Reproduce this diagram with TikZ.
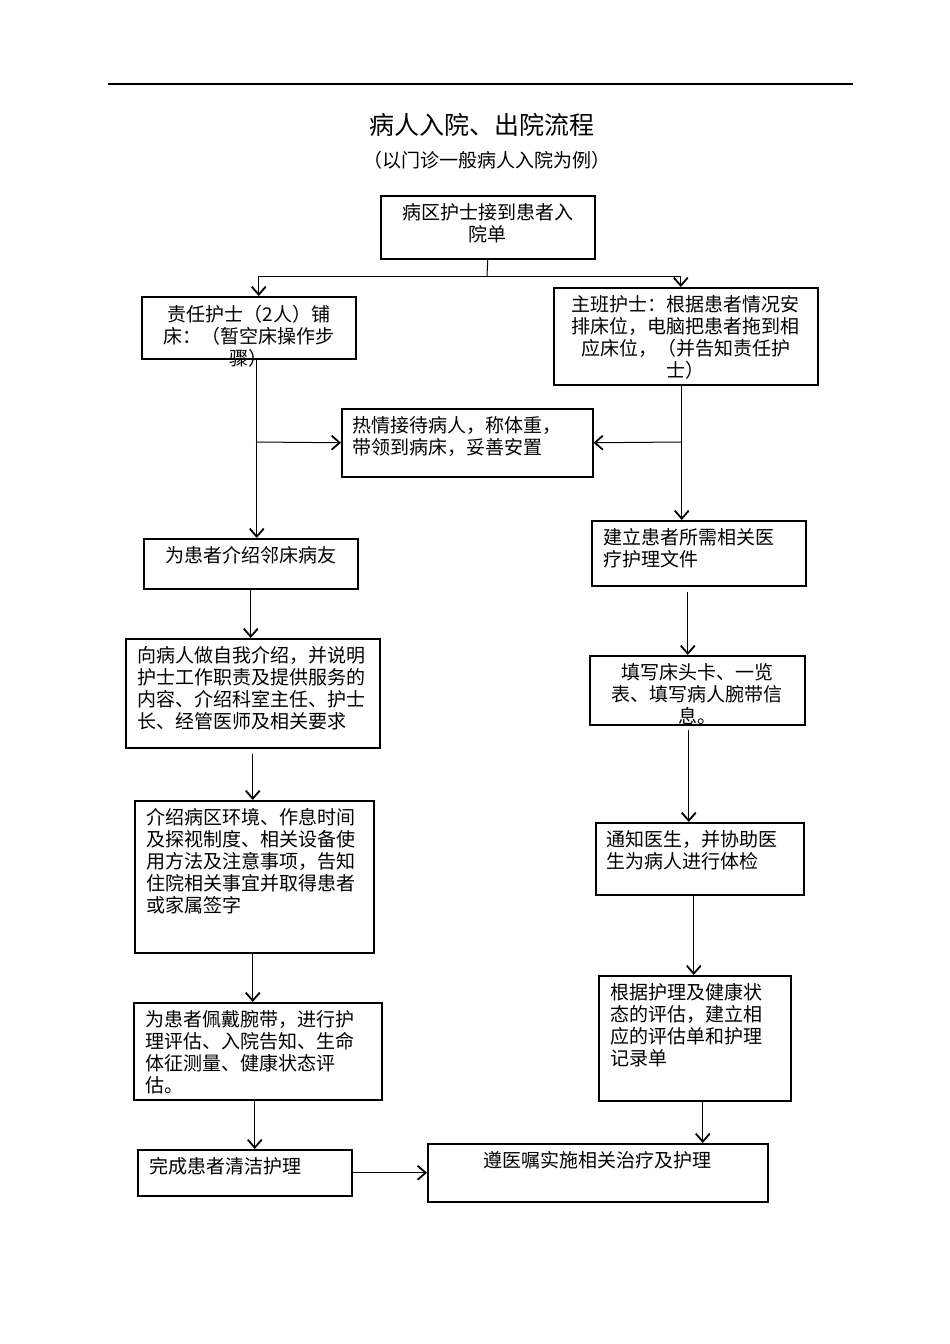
\documentclass[tikz,border=0pt]{standalone}
\usepackage{fontspec}
\setmainfont{Noto Sans CJK SC}
\usetikzlibrary{arrows.meta,positioning}
\newcommand{\boxtext}[3]{\parbox[c][#2pt][t]{#1pt}{#3}}

\begin{document}
\begin{tikzpicture}[x=1pt,y=-1pt,line width=1pt,
	>={Straight Barb[length=8pt,width=14pt,line width=1.8pt]}]
	\tikzstyle{stepbox}=[draw,line width=1.5pt,anchor=north west,inner xsep=12pt,
	inner ysep=8pt,font=\fontsize{19pt}{22pt}\selectfont]
	\useasboundingbox (0,0) rectangle (950,1344);
	
	\draw[line width=1.5pt] (108,84) -- (853,84);
	\node[font=\fontsize{25pt}{30pt}\selectfont] (title) at (482,125) {病人入院、出院流程};
	\node[font=\fontsize{19pt}{22pt}\selectfont] (sub) at (487,160) {（以门诊一般病人入院为例）};
	
	\node[stepbox] (A) at (380,195) {\boxtext{190}{47}{\centering 病区护士接到患者入\\院单}};
	\node[stepbox] (B) at (141,296) {\boxtext{190}{46}{\centering 责任护士（2人）铺\\床：（暂空床操作步\\骤）}};
	\node[stepbox] (C) at (553,287) {\boxtext{240}{81}{\centering 主班护士：根据患者情况安\\排床位，电脑把患者拖到相\\应床位，（并告知责任护\\士）}};
	\node[stepbox,inner xsep=11pt] (D) at (341,408) {\boxtext{229}{52}{热情接待病人，称体重，\\带领到病床，妥善安置}};
	\node[stepbox] (E) at (143,538) {\boxtext{190}{34}{\centering 为患者介绍邻床病友}};
	\node[stepbox] (F) at (591,520) {\boxtext{190}{49}{建立患者所需相关医\\疗护理文件}};
	\node[stepbox] (G) at (125,638) {\boxtext{230}{93}{向病人做自我介绍，并说明\\护士工作职责及提供服务的\\内容、介绍科室主任、护士\\长、经管医师及相关要求}};
	\node[stepbox] (H) at (589,655) {\boxtext{191}{53}{\centering 填写床头卡、一览\\表、填写病人腕带信\\息。}};
	\node[stepbox] (I) at (134,800) {\boxtext{215}{136}{介绍病区环境、作息时间\\及探视制度、相关设备使\\用方法及注意事项，告知\\住院相关事宜并取得患者\\或家属签字}};
	\node[stepbox,inner xsep=11pt] (J) at (595,822) {\boxtext{186}{56}{通知医生，并协助医\\生为病人进行体检}};
	\node[stepbox] (K) at (133,1002) {\boxtext{224}{81}{为患者佩戴腕带，进行护\\理评估、入院告知、生命\\体征测量、健康状态评\\估。}};
	\node[stepbox] (L) at (598,975) {\boxtext{168}{109}{根据护理及健康状\\态的评估，建立相\\应的评估单和护理\\记录单}};
	\node[stepbox] (M) at (137,1149) {\boxtext{190}{30}{完成患者清洁护理}};
	\node[stepbox] (N) at (427,1143) {\boxtext{316}{42}{\centering 遵医嘱实施相关治疗及护理}};
	
	% split below the first box
	\coordinate (jA) at (487,276);
	\draw (A.south) -- (jA);
	\draw[->] (jA) -| ([xshift=10pt]B.north);
	\draw[->] (jA) -| ([xshift=-5pt]C.north);
	
	% both columns lead into the reception box
	\coordinate (jL) at (256,442);
	\coordinate (jR) at (681,442);
	\draw[->] ([xshift=8pt]B.south) -- ([xshift=8pt]B.south |- E.north);
	\draw[->] (jL) -- (D.west);
	\draw[->] ([xshift=-4pt]C.south) -- ([xshift=-4pt]C.south |- F.north);
	\draw[->] (jR) -- (D.east);
	
	% left column
	\draw[->] (E.south) -- (E.south |- G.north);
	\draw[->,shorten <=5pt] (G.south) -- (G.south |- I.north);
	\draw[->] ([xshift=-1.5pt]I.south) -- ([xshift=-1.5pt]I.south |- K.north);
	\draw[->] ([xshift=-3pt]K.south) -- ([xshift=-3pt]K.south |- M.north);
	
	% right column
	\draw[->,shorten <=5pt] ([xshift=-11pt]F.south) -- ([xshift=-11pt]F.south |- H.north);
	\draw[->,shorten <=4pt] ([xshift=-8.5pt]H.south) -- ([xshift=-8.5pt]H.south |- J.north);
	\draw[->] ([xshift=-6pt]J.south) -- ([xshift=-6pt]J.south |- L.north);
	\draw[->] ([xshift=8pt]L.south) -- ([xshift=8pt]L.south |- N.north);
	
	\draw[->] (M.east) -- (N.west);
	
\end{tikzpicture}
\end{document}
